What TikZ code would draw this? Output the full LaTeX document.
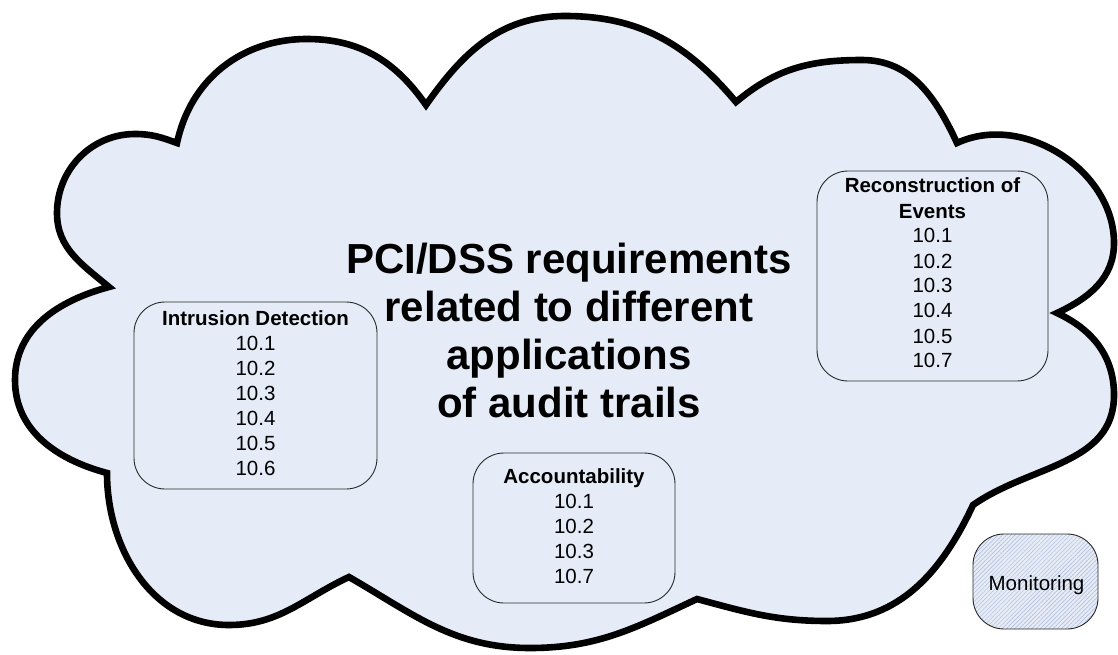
\documentclass[tikz,border=0pt]{standalone}
\usepackage{fontspec}
\setmainfont{Liberation Sans}
\usetikzlibrary{patterns.meta}

\definecolor{cloudfill}{RGB}{230,236,247}
\definecolor{hatchline}{RGB}{172,184,210}
\definecolor{boxline}{RGB}{40,40,40}

\tikzset{
  cloudline/.style={draw=black, line width=6.6pt, fill=cloudfill, line join=miter, miter limit=6},
  reqbox/.style={draw=boxline, line width=0.9pt, rounded corners=31pt, inner sep=0pt},
  boxtext/.style={anchor=base, inner sep=0pt, font=\fontsize{20.5}{25}\selectfont},
  titletext/.style={anchor=base, inner sep=0pt, font=\fontsize{42}{48}\selectfont\bfseries},
}

\begin{document}
\begin{tikzpicture}[x=1pt,y=1pt]
\fill[white] (0,0) rectangle (1118,-655);
\useasboundingbox (0,0) rectangle (1118,-655);

% cusps of the cloud outline
\coordinate (cB) at (109,-287);
\coordinate (cA) at (177,-143);
\coordinate (cC) at (426,-105);
\coordinate (cD) at (736,-102);
\coordinate (cE) at (957,-143);
\coordinate (cF) at (1057,-313);
\coordinate (cG) at (973,-505);
\coordinate (cH) at (697,-599);
\coordinate (cI) at (349,-577);
\coordinate (cJ) at (107,-473);

% cloud: one lobe between each pair of cusps
\path[cloudline]
  (cB) to[out=140,in=270] (57,-213) to[out=90,in=180] (135,-134) to[out=0,in=160] (cA)
       to[out=78,in=180] (307,-39) to[out=0,in=125] (cC)
       to[out=55,in=180] (565,-16) to[out=0,in=130] (cD)
       to[out=40,in=180] (862,-60) to[out=0,in=115] (cE)
       to[out=25,in=90] (1114,-243) to[out=270,in=25] (cF)
       to[out=-25,in=90] (1114,-395) to[out=270,in=35] (cG)
       to[out=245,in=0] (827,-621) to[out=180,in=-15] (cH)
       to[out=205,in=0] (530,-648) to[out=180,in=-30] (cI)
       to[out=205,in=0] (229,-625) to[out=180,in=270] (cJ)
       to[out=165,in=270] (15,-380) to[out=90,in=195] (cB)
  -- cycle;

% title
\node[titletext] (title) at (569,-273)
  {\begin{tabular}[t]{@{}c@{}}PCI/DSS requirements\\related to different\\applications\\of audit trails\end{tabular}};

% requirement groups
\node[reqbox, minimum width=243pt, minimum height=187pt] (idbox) at (255.5,-395.5) {};
\node[boxtext] (idtext) at (255.5,-325)
  {\begin{tabular}[t]{@{}c@{}}\textbf{Intrusion Detection}\\10.1\\10.2\\10.3\\10.4\\10.5\\10.6\end{tabular}};

\node[reqbox, minimum width=231pt, minimum height=210pt] (rebox) at (932.5,-276) {};
\node[boxtext] (retext) at (932.5,-193)
  {\begin{tabular}[t]{@{}c@{}}\textbf{Reconstruction of}\\\textbf{Events}\\10.1\\10.2\\10.3\\10.4\\10.5\\10.7\end{tabular}};

\node[reqbox, minimum width=202pt, minimum height=150pt] (acbox) at (574,-528) {};
\node[boxtext] (actext) at (574,-483)
  {\begin{tabular}[t]{@{}c@{}}\textbf{Accountability}\\10.1\\10.2\\10.3\\10.7\end{tabular}};

% monitoring, outside the cloud, hatched
\node[reqbox, minimum width=125pt, minimum height=95pt,
      preaction={fill=cloudfill},
      pattern={Lines[angle=45,distance=3pt,line width=0.45pt]}, pattern color=hatchline]
  (mobox) at (1035.5,-581.5) {};
\node[boxtext] (motext) at (1036.5,-590) {Monitoring};
\end{tikzpicture}
\end{document}
